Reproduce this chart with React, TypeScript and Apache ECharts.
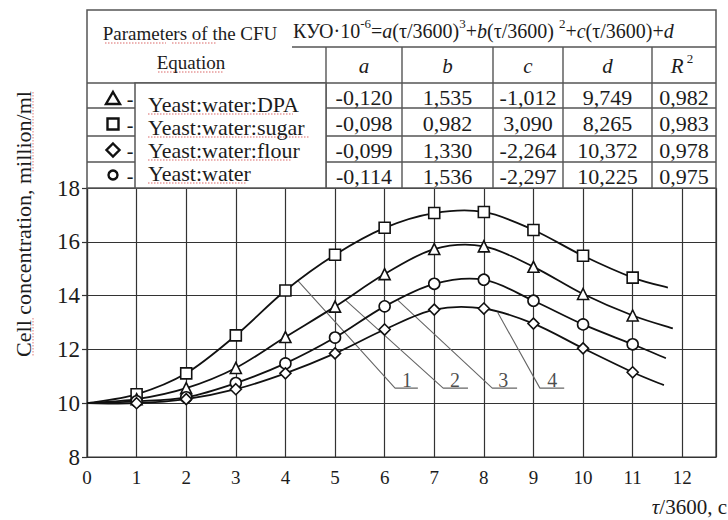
import React, { useEffect, useRef } from 'react';
import * as echarts from 'echarts';

// ---------- data ----------
const hours = [0, 1, 2, 3, 4, 5, 6, 7, 8, 9, 10, 11];
const sugarValues = [10.0, 10.33, 11.11, 12.52, 14.19, 15.52, 16.52, 17.07, 17.11, 16.44, 15.48, 14.67];
const dpaValues = [10.0, 10.15, 10.56, 11.31, 12.46, 13.59, 14.8, 15.73, 15.83, 15.07, 14.06, 13.26];
const waterValues = [10.0, 10.07, 10.22, 10.75, 11.48, 12.44, 13.6, 14.44, 14.59, 13.81, 12.93, 12.19];
const flourValues = [10.0, 10.0, 10.15, 10.52, 11.11, 11.85, 12.74, 13.48, 13.52, 12.96, 12.04, 11.15];
// curve continuation beyond the last measured point (no marker)
const sugarTail = [11.71, 14.3];
const dpaTail = [11.81, 12.78];
const waterTail = [11.67, 11.67];
const flourTail = [11.63, 10.67];

const xTicks = [0, 1, 2, 3, 4, 5, 6, 7, 8, 9, 10, 11, 12];

// table
const mediaNames = ['Yeast:water:DPA', 'Yeast:water:sugar', 'Yeast:water:flour', 'Yeast:water'];
const mediaSymbols = ['triangle', 'rect', 'diamond', 'circle'];
const coefA = ['-0,120', '-0,098', '-0,099', '-0,114'];
const coefB = ['1,535', '0,982', '1,330', '1,536'];
const coefC = ['-1,012', '3,090', '-2,264', '-2,297'];
const coefD = ['9,749', '8,265', '10,372', '10,225'];
const coefR2 = ['0,982', '0,983', '0,978', '0,975'];

// numbered leader lines (data coordinates)
const curveNumbers = ['1', '2', '3', '4'];
const leaderStart = [[4.25, 14.56], [5.2, 13.85], [6.27, 13.82], [8.28, 13.37]];
const shelfStartX = [6.21, 7.18, 8.17, 9.13];
const shelfEndX = [6.67, 7.68, 8.67, 9.62];
const shelfY = 10.56;
const numberX = [6.45, 7.42, 8.39, 9.38];
const numberY = 10.88;

const FONT = '"Liberation Serif", "Times New Roman", Times, serif';
const INK = '#1c1c1c';
const RULE = '#555';
const SPELL = '#e79a9a';

function curvePoints(values: number[], tail: number[]) {
  const pts = hours.map((h, i) => [h, values[i]]);
  pts.push(tail);
  return pts;
}

function txt(x: number, y: number, text: string, extra: any = {}) {
  return {
    type: 'text',
    x,
    y,
    silent: true,
    z: 24,
    style: {
      text,
      fontFamily: FONT,
      fontSize: 22,
      fill: INK,
      textAlign: 'center',
      textVerticalAlign: 'middle',
      ...extra,
    },
  };
}
function ln(x1: number, y1: number, x2: number, y2: number, w = 1.4) {
  return {
    type: 'line',
    silent: true,
    z: 20,
    shape: { x1, y1, x2, y2 },
    style: { stroke: RULE, lineWidth: w },
  };
}
function squiggle(x1: number, y1: number, x2: number, y2: number) {
  return {
    type: 'line',
    silent: true,
    z: 23,
    shape: { x1, y1, x2, y2 },
    style: { stroke: SPELL, lineWidth: 1.3, lineDash: [1.5, 1.5] },
  };
}

function marker(kind: string, cx: number, cy: number, s: number) {
  const h = s / 2;
  const style = { fill: '#fff', stroke: '#111', lineWidth: 2.4 };
  if (kind === 'triangle')
    return { type: 'polygon', silent: true, z: 24, shape: { points: [[cx, cy - h], [cx + h + 1, cy + h], [cx - h - 1, cy + h]] }, style };
  if (kind === 'rect')
    return { type: 'rect', silent: true, z: 24, shape: { x: cx - h + 0.5, y: cy - h + 0.5, width: s - 1, height: s - 1 }, style };
  if (kind === 'diamond')
    return { type: 'polygon', silent: true, z: 24, shape: { points: [[cx, cy - h - 0.5], [cx + h + 0.5, cy], [cx, cy + h + 0.5], [cx - h - 0.5, cy]] }, style };
  return { type: 'circle', silent: true, z: 24, shape: { cx, cy, r: h - 1.5 }, style };
}

function buildTable() {
  const L = 87, R = 716, T = 10, B = 188;
  const formulaLineY = 47, headLineY = 83;
  const rowLines = [108, 136, 162];
  const rowCenters = [97, 123, 150, 176];
  const colLines = [326, 402, 493, 563, 652];
  const colCenters = [364, 447.5, 528, 607.5, 684];
  const legendRows = [104, 127, 150, 173];
  const legendEnds = [293, 309, 292, 246];
  const markerRows = [98, 124, 150, 175];
  const els: any[] = [];
  els.push({ type: 'rect', silent: true, z: 19, shape: { x: L, y: T, width: R - L, height: B - T }, style: { fill: '#fff', stroke: RULE, lineWidth: 1.5 } });
  els.push(ln(292, formulaLineY, R, formulaLineY));
  els.push(ln(L, headLineY, R, headLineY));
  rowLines.forEach((y) => {
    els.push(ln(L, y, 135, y));
    els.push(ln(326, y, R, y));
  });
  colLines.forEach((x) => els.push(ln(x, formulaLineY, x, B)));
  // legend box
  els.push({ type: 'rect', silent: true, z: 21, shape: { x: 135, y: headLineY, width: 326 - 135, height: B - headLineY }, style: { fill: '#fff', stroke: RULE, lineWidth: 1.5 } });

  els.push(txt(190, 33, 'Parameters of the CFU', { fontSize: 19 }));
  els.push(txt(191, 62, 'Equation', { fontSize: 19 }));
  els.push(squiggle(105, 43, 166, 43));
  els.push(squiggle(172, 43, 216, 43));
  els.push(squiggle(158, 72, 224, 72));
  // formula
  els.push({
    type: 'text',
    x: 293,
    y: 31,
    silent: true,
    z: 24,
    style: {
      text: '{n|КУО·10}{s|-6}{n|=}{i|a}{n|(τ/3600)}{s|3}{n|+}{i|b}{n|(τ/3600) }{s|2}{n|+}{i|c}{n|(τ/3600)+}{i|d}',
      textAlign: 'left',
      textVerticalAlign: 'middle',
      fill: INK,
      rich: {
        n: { fontFamily: FONT, fontSize: 20, lineHeight: 28, fill: INK },
        i: { fontFamily: FONT, fontSize: 20, lineHeight: 28, fontStyle: 'italic', fill: INK },
        s: { fontFamily: FONT, fontSize: 13, lineHeight: 14, verticalAlign: 'top', fill: INK },
      },
    },
  });
  // column headers
  const heads = ['a', 'b', 'c', 'd'];
  heads.forEach((h, i) => els.push(txt(colCenters[i], 66, h, { fontStyle: 'italic', fontSize: 21 })));
  els.push({
    type: 'text',
    x: colCenters[4] - 2,
    y: 66,
    silent: true,
    z: 24,
    style: {
      text: '{i|R}{s| 2}',
      textAlign: 'center',
      textVerticalAlign: 'middle',
      fill: INK,
      rich: {
        i: { fontFamily: FONT, fontSize: 21, lineHeight: 28, fontStyle: 'italic', fill: INK },
        s: { fontFamily: FONT, fontSize: 13, lineHeight: 14, verticalAlign: 'top', fill: INK },
      },
    },
  });
  const cols = [coefA, coefB, coefC, coefD, coefR2];
  cols.forEach((col, ci) =>
    col.forEach((v, ri) => els.push(txt(colCenters[ci], rowCenters[ri], v)))
  );
  mediaNames.forEach((name, i) => {
    els.push(txt(148, legendRows[i], name, { textAlign: 'left' }));
    els.push(squiggle(148, legendRows[i] + 10, legendEnds[i], legendRows[i] + 10));
    els.push(marker(mediaSymbols[i], 113, markerRows[i], 12));
    els.push(txt(130, markerRows[i] + 1, '-', { fontSize: 20 }));
  });
  // axis titles
  els.push({ ...txt(23, 224, 'Cell concentration, million/ml', { fontSize: 22 }), rotation: Math.PI / 2 });
  els.push(squiggle(33, 318, 33, 357));
  els.push(squiggle(33, 92, 33, 172));
  els.push({
    type: 'text',
    x: 727,
    y: 507,
    silent: true,
    z: 24,
    style: {
      text: '{i|τ}{n|/3600, c}',
      textAlign: 'right',
      textVerticalAlign: 'middle',
      fill: INK,
      rich: {
        i: { fontFamily: FONT, fontSize: 21, fontStyle: 'italic', fill: INK },
        n: { fontFamily: FONT, fontSize: 21, fill: INK },
      },
    },
  });
  return els;
}

// smooth curve through the points: each data item draws the Catmull-Rom segment to the next point
function curveSeries(name: string, pts: number[][]) {
  const n = pts.length;
  return {
    name: name + ' curve',
    type: 'custom',
    silent: true,
    z: 4,
    data: pts,
    renderItem: (params: any, api: any) => {
      const i = params.dataIndex;
      if (i >= n - 1) return null;
      const p0 = api.coord(pts[Math.max(i - 1, 0)]);
      const p1 = api.coord(pts[i]);
      const p2 = api.coord(pts[i + 1]);
      const p3 = api.coord(pts[Math.min(i + 2, n - 1)]);
      const k = 1 / 6;
      return {
        type: 'bezierCurve',
        shape: {
          x1: p1[0],
          y1: p1[1],
          x2: p2[0],
          y2: p2[1],
          cpx1: p1[0] + (p2[0] - p0[0]) * k,
          cpy1: p1[1] + (p2[1] - p0[1]) * k,
          cpx2: p2[0] - (p3[0] - p1[0]) * k,
          cpy2: p2[1] - (p3[1] - p1[1]) * k,
        },
        style: { stroke: '#111', lineWidth: 1.8, fill: null },
      };
    },
  };
}

function markerSeries(name: string, symbol: string, values: number[]) {
  return {
    name,
    type: 'scatter',
    symbol,
    symbolSize: 11,
    silent: true,
    z: 5,
    data: hours.slice(1).map((h, i) => [h, values[i + 1]]),
    itemStyle: { color: '#fff', borderColor: '#111', borderWidth: 1.6, opacity: 1 },
  };
}

export default function App() {
  const ref = useRef<HTMLDivElement>(null);
  useEffect(() => {
    document.body.style.margin = '0';
    if (!ref.current) return;
    const chart = echarts.init(ref.current, undefined, { renderer: 'svg' });
    const leaderSeries = curveNumbers.map((n, i) => ({
      name: 'leader' + n,
      type: 'line',
      symbol: 'none',
      silent: true,
      data: [leaderStart[i], [shelfStartX[i], shelfY], [shelfEndX[i], shelfY]],
      lineStyle: { color: '#666', width: 1.1 },
      z: 3,
    }));
    chart.setOption({
      animation: false,
      backgroundColor: '#fff',
      grid: { left: 87, right: 12, top: 188, bottom: 63, show: true, borderColor: '#333', borderWidth: 1.2, backgroundColor: 'transparent' },
      xAxis: {
        type: 'value',
        min: 0,
        max: 12.68,
        interval: 1,
        axisLine: { show: true, lineStyle: { color: '#333', width: 1.2 } },
        axisTick: { show: false },
        splitLine: { show: true, lineStyle: { color: '#333', width: 1.2 } },
        axisLabel: {
          margin: 11,
          fontFamily: FONT,
          fontSize: 19,
          color: INK,
          formatter: (v: number) => (xTicks.includes(v) ? String(v) : ''),
        },
      },
      yAxis: {
        type: 'value',
        min: 8,
        max: 18,
        interval: 2,
        axisLine: { show: true, lineStyle: { color: '#333', width: 1.2 } },
        axisTick: { show: true, length: 5, lineStyle: { color: '#333', width: 1.2 } },
        splitLine: { show: true, lineStyle: { color: '#333', width: 1.2 } },
        axisLabel: { margin: 7, fontFamily: FONT, fontSize: 23, color: INK },
      },
      series: [
        curveSeries(mediaNames[1], curvePoints(sugarValues, sugarTail)),
        curveSeries(mediaNames[0], curvePoints(dpaValues, dpaTail)),
        curveSeries(mediaNames[3], curvePoints(waterValues, waterTail)),
        curveSeries(mediaNames[2], curvePoints(flourValues, flourTail)),
        markerSeries(mediaNames[1], 'rect', sugarValues),
        markerSeries(mediaNames[0], 'triangle', dpaValues),
        markerSeries(mediaNames[3], 'circle', waterValues),
        markerSeries(mediaNames[2], 'diamond', flourValues),
        ...leaderSeries,
        {
          name: 'numbers',
          type: 'scatter',
          symbolSize: 1,
          silent: true,
          itemStyle: { color: 'rgba(0,0,0,0)' },
          data: curveNumbers.map((n, i) => ({ value: [numberX[i], numberY], name: n })),
          label: { show: true, position: 'inside', formatter: '{b}', fontFamily: FONT, fontSize: 20, color: INK },
          z: 6,
        },
      ],
      graphic: { elements: buildTable() },
    });
    return () => chart.dispose();
  }, []);
  return <div ref={ref} style={{ width: 728, height: 520 }} />;
}
